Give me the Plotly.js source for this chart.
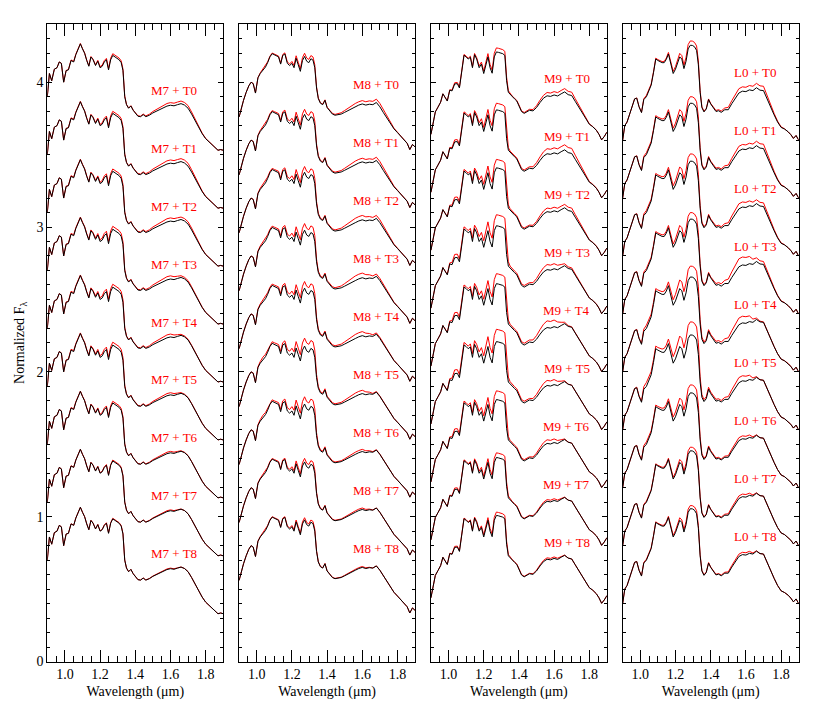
<!DOCTYPE html>
<html>
<head>
<meta charset="utf-8">
<script src="https://cdn.plot.ly/plotly-3.0.1.min.js"></script>
<style>
  html, body { margin: 0; padding: 0; background: #fff; }
  #spectra { width: 830px; height: 712px; }
</style>
</head>
<body>
<div id="spectra"></div>
<script>
// wavelength grid (micron), shared by all four panels
var lam = [0.900, 0.912, 0.925, 0.940, 0.955, 0.968, 0.980, 0.993, 1.007, 1.020,
  1.035, 1.050, 1.062, 1.075, 1.088, 1.100, 1.112, 1.124, 1.136, 1.148,
  1.160, 1.174, 1.187, 1.200, 1.212, 1.224, 1.236, 1.248, 1.260, 1.272,
  1.284, 1.296, 1.308, 1.320, 1.330, 1.340, 1.350, 1.362, 1.375, 1.388,
  1.400, 1.415, 1.430, 1.445, 1.460, 1.480, 1.500, 1.520, 1.540, 1.560,
  1.580, 1.600, 1.620, 1.640, 1.660, 1.680, 1.700, 1.720, 1.740, 1.760,
  1.780, 1.800, 1.820, 1.840, 1.855, 1.870, 1.885, 1.900];

// black spectra (bottom spectrum level, no offset) for each primary
var blackM7 = [0.70, 0.86, 0.81, 0.89, 0.90, 0.94, 0.93, 0.80, 0.88, 0.885,
  0.95, 0.94, 0.99, 1.03, 1.065, 1.03, 1.00, 0.95, 0.91, 0.974,
  0.955, 0.915, 0.945, 0.90, 0.91, 0.94, 0.955, 0.885, 0.955, 0.985,
  0.975, 0.965, 0.955, 0.935, 0.88, 0.70, 0.645, 0.62, 0.636, 0.606,
  0.585, 0.565, 0.562, 0.576, 0.562, 0.572, 0.588, 0.600, 0.612, 0.624,
  0.635, 0.641, 0.637, 0.645, 0.652, 0.642, 0.62, 0.58, 0.535, 0.487,
  0.445, 0.41, 0.388, 0.368, 0.35, 0.33, 0.335, 0.33];
var blackM8 = [0.56, 0.625, 0.675, 0.73, 0.775, 0.80, 0.79, 0.725, 0.83, 0.86,
  0.885, 0.905, 0.935, 0.975, 0.997, 0.99, 0.985, 0.975, 0.925, 0.985,
  0.995, 0.93, 0.915, 0.93, 0.90, 0.965, 0.92, 0.875, 0.95, 0.978,
  0.945, 0.935, 0.962, 0.952, 0.90, 0.76, 0.687, 0.655, 0.645, 0.675,
  0.625, 0.60, 0.58, 0.572, 0.575, 0.58, 0.592, 0.606, 0.618, 0.63,
  0.642, 0.65, 0.642, 0.648, 0.645, 0.66, 0.63, 0.59, 0.55, 0.51,
  0.478, 0.452, 0.425, 0.402, 0.378, 0.335, 0.37, 0.353];
var blackM9 = [0.44, 0.515, 0.595, 0.628, 0.662, 0.72, 0.695, 0.67, 0.745, 0.74,
  0.788, 0.79, 0.76, 0.87, 0.986, 0.975, 0.96, 0.972, 0.90, 0.99,
  0.96, 0.90, 0.925, 0.86, 0.93, 0.975, 0.90, 0.862, 0.975, 1.009,
  1.006, 1.003, 0.997, 0.985, 0.81, 0.73, 0.715, 0.70, 0.685, 0.67,
  0.64, 0.597, 0.585, 0.596, 0.606, 0.602, 0.625, 0.66, 0.69, 0.706,
  0.702, 0.712, 0.705, 0.72, 0.733, 0.714, 0.708, 0.668, 0.63, 0.585,
  0.548, 0.51, 0.492, 0.468, 0.44, 0.402, 0.425, 0.455];
var blackL0 = [0.40, 0.50, 0.525, 0.58, 0.64, 0.685, 0.69, 0.63, 0.59, 0.68,
  0.70, 0.745, 0.78, 0.865, 0.96, 0.95, 0.942, 0.935, 0.935, 0.958,
  0.995, 0.93, 0.86, 0.89, 0.935, 0.975, 0.96, 0.894, 0.945, 1.03,
  1.055, 1.054, 1.045, 1.02, 0.92, 0.73, 0.625, 0.595, 0.615, 0.68,
  0.65, 0.62, 0.598, 0.603, 0.592, 0.61, 0.61, 0.652, 0.69, 0.725,
  0.738, 0.735, 0.747, 0.742, 0.762, 0.745, 0.742, 0.682, 0.635, 0.575,
  0.525, 0.488, 0.476, 0.458, 0.438, 0.412, 0.432, 0.40];

// where the red (composite) spectrum rises above the black one: J peak, blue and red side of H
var jShape = [0, 0, 0, 0, 0, 0, 0.05, 0.05, 0.1, 0.2,
  0.3, 0.3, 0.25, 0.2, 0.2, 0.2, 0.2, 0.25, 0.3, 0.3,
  0.35, 0.45, 0.5, 0.6, 0.7, 0.8, 0.8, 0.8, 0.9, 1,
  1, 1, 1, 1, 0.9, 0.4, 0.2, 0.15, 0.15, 0.15,
  0.12, 0.1, 0.08, 0.05, 0, 0, 0, 0, 0, 0,
  0, 0, 0, 0, 0, 0, 0, 0, 0, 0,
  0, 0, 0, 0, 0, 0, 0, 0];
var hBlueShape = [0, 0, 0, 0, 0, 0, 0, 0, 0, 0,
  0, 0, 0, 0, 0, 0, 0, 0, 0, 0,
  0, 0, 0, 0, 0, 0, 0, 0, 0, 0,
  0, 0, 0, 0, 0, 0, 0, 0, 0, 0,
  0, 0.1, 0.15, 0.2, 0.3, 0.4, 0.55, 0.7, 0.85, 1,
  1, 1, 0.85, 0.45, 0.15, 0.05, 0, 0, 0, 0,
  0, 0, 0, 0, 0, 0, 0, 0];
var hRedShape = [0, 0, 0, 0, 0, 0, 0, 0, 0, 0,
  0, 0, 0, 0, 0, 0, 0, 0, 0, 0,
  0, 0, 0, 0, 0, 0, 0, 0, 0, 0,
  0, 0, 0, 0, 0, 0, 0, 0, 0, 0,
  0, 0, 0, 0, 0, 0, 0, 0, 0, 0,
  0, 0, 0.15, 0.55, 0.85, 0.95, 1, 0.8, 0.55, 0.35,
  0.2, 0.12, 0.08, 0.05, 0.03, 0, 0, 0];

// size of that excess for T0..T8, one row per primary (M7, M8, M9, L0)
var jExcess = [
  [0.012, 0.014, 0.016, 0.02, 0.02, 0.02, 0.012, 0.006, 0.004],
  [0.022, 0.035, 0.04, 0.046, 0.046, 0.055, 0.05, 0.025, 0.015],
  [0.028, 0.046, 0.058, 0.076, 0.069, 0.085, 0.06, 0.032, 0.023],
  [0.03, 0.045, 0.05, 0.045, 0.075, 0.09, 0.055, 0.025, 0.022]];
var hBlueExcess = [
  [0.018, 0.022, 0.022, 0.022, 0.02, 0.015, 0.01, 0.006, 0.004],
  [0.023, 0.025, 0.03, 0.032, 0.028, 0.023, 0.015, 0.01, 0.006],
  [0.023, 0.035, 0.025, 0.035, 0.046, 0.035, 0.025, 0.012, 0.01],
  [0.03, 0.032, 0.035, 0.055, 0.046, 0.035, 0.02, 0.018, 0.016]];
var hRedExcess = [
  [0.018, 0.02, 0.016, 0.01, 0.005, 0.003, 0.002, 0, 0],
  [0.023, 0.022, 0.02, 0.015, 0.008, 0.003, 0.002, 0, 0],
  [0.023, 0.035, 0.023, 0.01, 0.003, 0, 0, 0, 0],
  [0.03, 0.03, 0.025, 0.02, 0.003, 0, 0, 0, 0]];

var primaries = ['M7', 'M8', 'M9', 'L0'];
var secondaries = ['T0', 'T1', 'T2', 'T3', 'T4', 'T5', 'T6', 'T7', 'T8'];
var offsets = [3.2, 2.8, 2.4, 2.0, 1.6, 1.2, 0.8, 0.4, 0.0];
var yTickVals = [0, 1, 2, 3, 4];

var blacks = [blackM7, blackM8, blackM9, blackL0];

// label placement per panel
var labelX = [1.62, 1.678, 1.673, 1.652];
var labelRaise = [0.744, 0.783, 0.825, 0.864];
var panelDomains = [[0.0570, 0.2690], [0.2881, 0.5001], [0.5192, 0.7312], [0.7502, 0.9623]];

var serif = '"Liberation Serif", "Times New Roman", serif';
var data = [];
var annotations = [];
var layout = {
  width: 830, height: 712,
  margin: {l: 0, r: 0, t: 0, b: 0},
  paper_bgcolor: '#fff', plot_bgcolor: '#fff',
  showlegend: false,
  font: {family: serif, color: '#000', size: 14}
};

primaries.forEach(function (prim, k) {
  var sfx = k === 0 ? '' : String(k + 1);
  var black = blacks[k];

  // red first so the black lines sit on top
  offsets.forEach(function (off, t) {
    var yRed = black.map(function (v, i) {
      return v + off + jExcess[k][t] * jShape[i] + hBlueExcess[k][t] * hBlueShape[i] + hRedExcess[k][t] * hRedShape[i];
    });
    data.push({x: lam, y: yRed, xaxis: 'x' + sfx, yaxis: 'y' + sfx, type: 'scatter', mode: 'lines',
      line: {color: '#ff0000', width: 1}, hoverinfo: 'skip'});
  });
  offsets.forEach(function (off, t) {
    data.push({x: lam, y: black.map(function (v) { return v + off; }), xaxis: 'x' + sfx, yaxis: 'y' + sfx,
      type: 'scatter', mode: 'lines', line: {color: '#000000', width: 1}, hoverinfo: 'skip'});
    annotations.push({text: prim + ' + ' + secondaries[t], x: labelX[k], y: off + labelRaise[k],
      xref: 'x' + sfx, yref: 'y' + sfx, showarrow: false, xanchor: 'center', yanchor: 'middle',
      font: {family: serif, size: 13, color: '#ff0000'}});
  });

  layout['xaxis' + sfx] = {
    domain: panelDomains[k], anchor: 'y' + sfx, range: [0.9, 1.9],
    tick0: 0, dtick: 0.2, tickformat: '.1f',
    ticks: 'inside', ticklen: 12, tickwidth: 1, tickcolor: '#000',
    minor: {dtick: 0.05, ticks: 'inside', ticklen: 6, tickwidth: 1, tickcolor: '#000'},
    showline: true, linecolor: '#000', linewidth: 1, mirror: 'ticks',
    showgrid: false, zeroline: false, automargin: false,
    tickfont: {family: serif, size: 14},
    title: {text: 'Wavelength (\u03bcm)', font: {family: serif, size: 14}, standoff: 4}
  };
  layout['yaxis' + sfx] = {
    domain: [0.0709, 0.9659], anchor: 'x' + sfx, range: [0, 4.4],
    tickvals: yTickVals, showticklabels: k === 0,
    ticks: 'inside', ticklen: 5, tickwidth: 1, tickcolor: '#000',
    minor: {dtick: 0.1, ticks: 'inside', ticklen: 3, tickwidth: 1, tickcolor: '#000'},
    showline: true, linecolor: '#000', linewidth: 1, mirror: 'ticks',
    showgrid: false, zeroline: false, automargin: false,
    tickfont: {family: serif, size: 14}
  };
});

layout.yaxis.title = {text: 'Normalized F<sub>\u03bb</sub>', font: {family: serif, size: 14}, standoff: 8};
layout.annotations = annotations;

Plotly.newPlot('spectra', data, layout, {staticPlot: true, displayModeBar: false});
</script>
</body>
</html>
